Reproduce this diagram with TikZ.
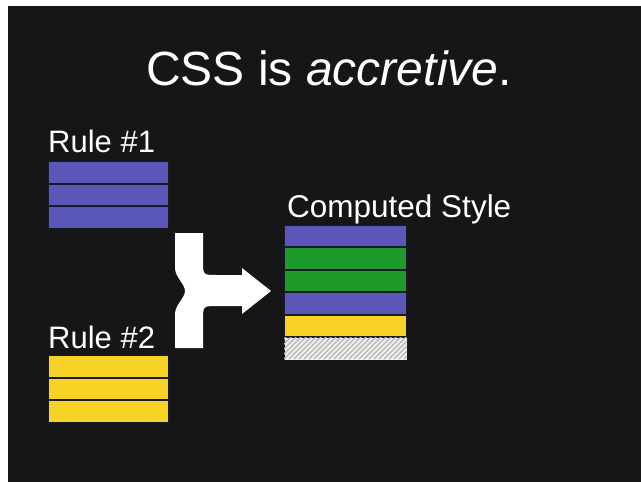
\documentclass[tikz,border=0pt]{standalone}
\usepackage{fontspec}
\setmainfont{Liberation Sans}
\begin{document}
\begin{tikzpicture}[x=1pt,y=-1pt,
  bar/.style={draw=barline,line width=1.2pt,minimum width=120pt,minimum height=21.5pt,inner sep=0pt,anchor=north west},
  bluebar/.style={bar,fill=cssblue},
  greenbar/.style={bar,fill=cssgreen},
  yellowbar/.style={bar,fill=cssyellow},
  label/.style={text=white,anchor=base west,inner sep=0pt,font=\fontsize{31}{31}\selectfont}]
\definecolor{bg}{HTML}{161616}
\definecolor{cssblue}{HTML}{5B57B8}
\definecolor{cssgreen}{HTML}{1E9A2A}
\definecolor{cssyellow}{HTML}{F6D324}
\definecolor{barline}{HTML}{1A1A2A}
\definecolor{hatchbg}{HTML}{F0F0F0}
\definecolor{hatchline}{HTML}{B4B4B4}

% frame
\fill[white] (0,0) rectangle (641,482);
\fill[bg] (8,6) rectangle (641,482);
\useasboundingbox (0,0) rectangle (641,482);

% title
\node[text=white,anchor=base,inner sep=0pt,font=\fontsize{48}{48}\selectfont] (title) at (329,85) {CSS is \textit{accretive}.};

% rule 1
\node[label] (rule1) at (48,152) {Rule \#1};
\node[bluebar] (r1a) at (48,161) {};
\node[bluebar] (r1b) at (48,183.5) {};
\node[bluebar] (r1c) at (48,206) {};

% rule 2
\node[label] (rule2) at (48,348) {Rule \#2};
\node[yellowbar] (r2a) at (48,355) {};
\node[yellowbar] (r2b) at (48,377.5) {};
\node[yellowbar] (r2c) at (48,400) {};

% computed style
\node[label,font=\fontsize{31.5}{31.5}\selectfont] (computed) at (287,217) {Computed Style};
\node[bluebar,minimum width=122pt] (c1) at (284,224.5) {};
\node[greenbar,minimum width=122pt] (c2) at (284,247) {};
\node[greenbar,minimum width=122pt] (c3) at (284,269.5) {};
\node[bluebar,minimum width=122pt] (c4) at (284,292) {};
\node[yellowbar,minimum width=122pt] (c5) at (284,314.5) {};
\node[bar,minimum width=122pt,draw=none,fill=hatchbg] (c6) at (284,337.5) {};
\begin{scope}
  \clip (c6.north west) rectangle (c6.south east);
  \foreach \i in {-30,-25,...,150}
    \draw[hatchline,line width=1.1pt] (284+\i,359) -- (284+\i+24,335);
\end{scope}

% merge arrow
\fill[white]
  (175,233) -- (203,233) -- (203,261)
  .. controls (203,275) .. (217,275)
  -- (242,275) -- (242,268) -- (271,291) -- (242,314) -- (242,306)
  -- (217,306) .. controls (203,306) .. (203,320)
  -- (203,348) -- (175,348) -- (175,314)
  .. controls (175,305) and (185,298) .. (185,291)
  .. controls (185,284) and (175,277) .. (175,268)
  -- cycle;
\end{tikzpicture}
\end{document}
